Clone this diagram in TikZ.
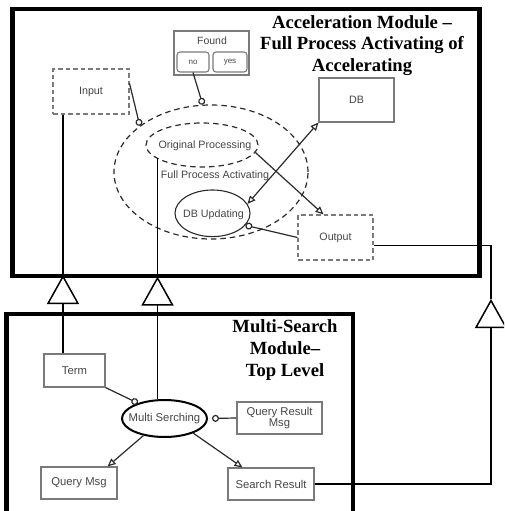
\documentclass[tikz,border=0pt]{standalone}
\usepackage{fontspec}
\setmainfont{Liberation Serif}
\newfontfamily\arial{Liberation Sans}
\usetikzlibrary{arrows.meta,shapes.geometric}
\definecolor{boxgray}{HTML}{7A7A7A}
\definecolor{txtgray}{HTML}{454545}
\definecolor{linegray}{HTML}{2A2A2A}

\begin{document}
\begin{tikzpicture}[x=1pt,y=-1pt,
  lbl/.style={font=\arial\fontsize{10.7}{11}\selectfont, text=txtgray, inner sep=0pt},
  lblb/.style={font=\arial\fontsize{11.3}{10.5}\selectfont, text=txtgray, inner sep=0pt, align=center},
  tiny/.style={font=\arial\fontsize{8}{9}\selectfont, text=txtgray, inner sep=0pt},
  title/.style={font=\bfseries\fontsize{18.6}{21.8}\selectfont, align=center, inner sep=0pt},
  frame/.style={draw=black, line width=4.5pt},
  plainbox/.style={draw=boxgray, line width=1.1pt, rectangle, inner sep=0pt},
  dashbox/.style={draw=boxgray, line width=1.1pt, dash pattern=on 4.5pt off 3pt, rectangle, inner sep=0pt},
  dashell/.style={draw=linegray, line width=1.2pt, dash pattern=on 5.5pt off 4pt, ellipse, inner sep=0pt},
  solidell/.style={draw=linegray, line width=1.1pt, ellipse, inner sep=0pt},
  conn/.style={draw=linegray, line width=1.2pt},
  openhead/.style={conn, -{Triangle[open, length=8pt, width=7pt]}},
  dblhead/.style={conn, {Triangle[open, length=8pt, width=7pt]}-{Triangle[open, length=8pt, width=7pt]}},
  ballend/.style={conn, -{Circle[open, length=7pt]}},
  inherit/.style={draw=black, line width=1.5pt, -{Triangle[open, length=29pt, width=32pt]}},
  wire/.style={draw=black, line width=1.5pt},
]
\useasboundingbox (0,0) rectangle (504,511);
\clip (0,0) rectangle (504,511);

% module frames
\draw[frame] (12.5,9) rectangle (479.5,276);
\draw[frame] (6.5,314) rectangle (353,530);

\node[title] (acctitle) at (362,45.5) {Acceleration Module –\\Full Process Activating of\\Accelerating};
\node[title] (mstitle) at (285,350) {Multi-Search\\Module–\\Top Level};

% acceleration module
\node[dashbox, lbl, minimum width=76pt, minimum height=45pt] (input) at (91,91.5) {Input};
\node[plainbox, minimum width=75pt, minimum height=44pt] (found) at (211.5,53) {};
\node[lbl, font=\arial\fontsize{10.5}{11}\selectfont] (foundlbl) at (212,41) {Found};
\node[plainbox, tiny, rounded corners=3pt, minimum width=32pt, minimum height=20pt] (no) at (193,62) {no};
\node[plainbox, tiny, rounded corners=3pt, minimum width=34pt, minimum height=20pt] (yes) at (230,62) {yes};
\node[plainbox, lbl, minimum width=75pt, minimum height=44pt] (db) at (356.5,100) {DB};
\node[dashbox, lbl, minimum width=75pt, minimum height=45pt] (output) at (335.5,237.5) {Output};
\node[dashell, minimum width=194pt, minimum height=134pt] (fpa) at (211,172) {};
\node[lbl] (fpalbl) at (215,176) {Full Process Activating};
\node[dashell, minimum width=112pt, minimum height=44pt] (orig) at (202,145) {};
\node[lbl] (origlbl) at (205,146) {Original Processing};
\node[solidell, minimum width=75pt, minimum height=46.6pt] (dbu) at (212.5,213.3) {};
\node[lbl] (dbulbl) at (213.5,214.5) {DB Updating};

\draw[ballend] ([yshift=8pt]input.east) -- (fpa.147);
\draw[ballend] (no.south) -- (fpa.97);
\draw[ballend] (output.west) -- (dbu.-20);
\draw[openhead] (orig.-8) -- ([xshift=-12pt]output.north);
\draw[dblhead] (dbu.15) -- (db.south west);

% multi-search module
\node[plainbox, lblb, minimum width=61pt, minimum height=33pt] (term) at (74.5,370.5) {Term};
\node[ellipse, draw=black, line width=2pt, inner sep=0pt, minimum width=85pt, minimum height=37pt] (ms) at (164.5,418.5) {};
\node[lblb] (mslbl) at (164.5,418.5) {Multi Serching};
\node[plainbox, lblb, minimum width=85pt, minimum height=32pt] (qrm) at (279.5,418) {Query Result\\Msg};
\node[plainbox, lblb, minimum width=76pt, minimum height=32pt] (qm) at (79,483) {Query Msg};
\node[plainbox, lblb, minimum width=86pt, minimum height=32pt] (sr) at (271,484) {Search Result};

\draw[ballend] (term.south east) -- (ms.150);
\draw[ballend, shorten >=4pt] (qrm.west) -- (ms.east);
\draw[openhead] (ms.-141) -- ([xshift=-10pt]qm.north east);
\draw[openhead] (ms.-27) -- ([xshift=15pt]sr.north west);

% generalisation links between the modules
\coordinate (apexL) at (63,275);
\coordinate (apexM) at (157.5,276.5);
\coordinate (apexR) at (491,299);
\draw[wire] (input.south -| apexL) -- (apexL);
\draw[inherit] (term.north -| apexL) -- (apexL);
\draw[wire] (orig.196 -| apexM) -- (apexM);
\draw[inherit] (ms.north -| apexM) -- (apexM);
\draw[wire] ([yshift=-8pt]output.east) -| (apexR);
\draw[inherit] (sr.east) -| (apexR);
\end{tikzpicture}
\end{document}
